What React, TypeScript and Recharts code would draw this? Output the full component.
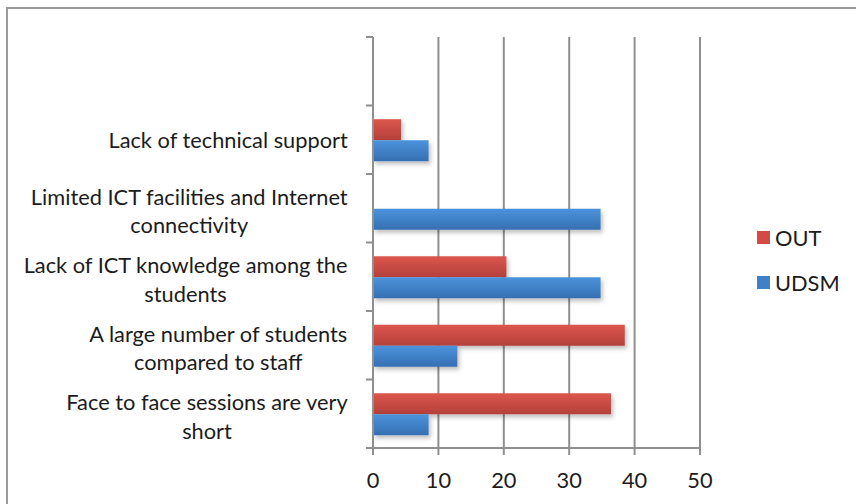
import React from 'react';
import { BarChart, Bar, XAxis, YAxis, CartesianGrid } from 'recharts';

const categories = [
  '',
  'Lack of technical support',
  'Limited ICT facilities and Internet\nconnectivity',
  'Lack of ICT knowledge among the\nstudents',
  'A large number of students\ncompared to staff',
  'Face to face sessions are very\nshort',
];
const outValues: (number | null)[] = [null, 4.3, 0, 20.4, 38.5, 36.4];
const udsmValues: (number | null)[] = [null, 8.5, 34.8, 34.8, 12.9, 8.5];
const xTicks = [0, 10, 20, 30, 40, 50];
const seriesNames = ['OUT', 'UDSM'];

const data = categories.map((name, i) => ({ name, out: outValues[i], udsm: udsmValues[i] }));

const W = 856;
const H = 504;
const MARGIN = { top: 37, right: 156, bottom: 0, left: 0 };
const Y_W = 373;
const X_H = 56;
const BAND = (H - MARGIN.top - MARGIN.bottom - X_H) / categories.length;
const AXIS_X = MARGIN.left + Y_W;
const LABEL_RIGHT = AXIS_X - 25;
const GRAY = '#8f8f8f';
const TEXT = '#1c1c1c';
const FONT = 'Lato, "Open Sans", sans-serif';
const FS = 21.8;
const LINE_H = 28.5;

let ctx: CanvasRenderingContext2D | null = null;
function measure(s: string) {
  if (!ctx) {
    const c = document.createElement('canvas');
    ctx = c.getContext('2d');
  }
  if (!ctx) return s.length * FS * 0.5;
  ctx.font = `${FS}px Lato`;
  return ctx.measureText(s).width;
}

const CategoryTick = (props: any) => {
  const { y, payload, index } = props;
  const lines = String(payload.value).split('\n');
  const blockW = Math.max(...lines.map(measure));
  const cx = LABEL_RIGHT - blockW / 2;
  const y0 = y - ((lines.length - 1) * LINE_H) / 2 + (lines.length > 1 ? 3 : 1);
  return (
    <g>
      <line x1={AXIS_X - 7} x2={AXIS_X} y1={y - BAND / 2} y2={y - BAND / 2} stroke={GRAY} strokeWidth={2} />
      {index === categories.length - 1 && (
        <line x1={AXIS_X - 7} x2={AXIS_X} y1={y + BAND / 2} y2={y + BAND / 2} stroke={GRAY} strokeWidth={2} />
      )}
      <text textAnchor="middle" fontSize={FS} fontFamily={FONT} fill={TEXT}>
        {lines.map((l, i) => (
          <tspan key={i} x={cx} y={y0 + i * LINE_H} dy="0.35em">
            {l}
          </tspan>
        ))}
      </text>
    </g>
  );
};

const legendColors = ['#d24b44', '#3f80c8'];

export default function App() {
  return (
    <div style={{ position: 'absolute', left: 0, top: 0, width: W, height: H, background: '#fff' }}>
      <div
        style={{
          position: 'absolute',
          left: 6,
          top: 7,
          right: 0,
          bottom: 0,
          borderTop: '2px solid #9a9a9a',
          borderLeft: '2px solid #9a9a9a',
        }}
      />
      <div style={{ position: 'absolute', left: 0, top: 0 }}>
        <BarChart
          width={W}
          height={H}
          data={data}
          layout="vertical"
          margin={MARGIN}
          barCategoryGap="20%"
          barGap={0}
        >
          <defs>
            <linearGradient id="gRed" x1="0" y1="0" x2="0" y2="1">
              <stop offset="0%" stopColor="#dc564d" />
              <stop offset="100%" stopColor="#b4413b" />
            </linearGradient>
            <linearGradient id="gBlue" x1="0" y1="0" x2="0" y2="1">
              <stop offset="0%" stopColor="#4b93dc" />
              <stop offset="100%" stopColor="#366fb2" />
            </linearGradient>
            <filter id="shadow" x="-10%" y="-30%" width="130%" height="180%">
              <feDropShadow dx="2" dy="3" stdDeviation="2" floodColor="#000" floodOpacity="0.25" />
            </filter>
          </defs>
          <CartesianGrid horizontal={false} vertical stroke={GRAY} strokeWidth={2} />
          <XAxis
            type="number"
            domain={[0, 50]}
            ticks={xTicks}
            height={X_H}
            axisLine={{ stroke: GRAY, strokeWidth: 2 }}
            tickLine={{ stroke: GRAY, strokeWidth: 2 }}
            tickSize={7}
            tickMargin={18}
            tick={{ fontSize: FS, fontFamily: FONT, fill: TEXT }}
          />
          <YAxis
            type="category"
            dataKey="name"
            width={Y_W}
            interval={0}
            axisLine={{ stroke: GRAY, strokeWidth: 2 }}
            tickLine={false}
            tick={<CategoryTick />}
          />
          <Bar dataKey="out" name="OUT" fill="url(#gRed)" filter="url(#shadow)" isAnimationActive={false} />
          <Bar dataKey="udsm" name="UDSM" fill="url(#gBlue)" filter="url(#shadow)" isAnimationActive={false} />
        </BarChart>
      </div>
      <div style={{ position: 'absolute', left: 757, top: 215, fontFamily: FONT, fontSize: FS, color: TEXT }}>
        {seriesNames.map((n, i) => (
          <div key={n} style={{ display: 'flex', alignItems: 'center', height: 45 }}>
            <span
              style={{ display: 'inline-block', width: 13, height: 13, background: legendColors[i], marginRight: 5 }}
            />
            <span>{n}</span>
          </div>
        ))}
      </div>
    </div>
  );
}
